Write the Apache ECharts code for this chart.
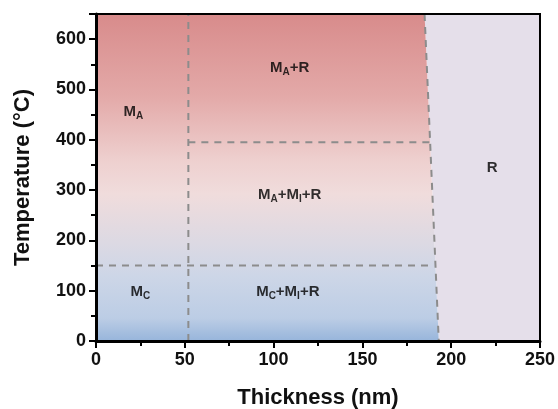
<!DOCTYPE html>
<html>
<head>
<meta charset="utf-8">
<script src="https://cdn.jsdelivr.net/npm/echarts@6/dist/echarts.min.js"></script>
<style>
  html, body { margin: 0; padding: 0; background: #fff; }
  #chart { width: 558px; height: 409px; }
</style>
</head>
<body>
<div id="chart"></div>
<script>
// phase boundaries (thickness nm, temperature C)
const boundaryLine = [[185, 650], [193, 0]];
const verticalLine = [[52, 0], [52, 650]];
const upperLine = [[52, 395], [188, 395]];
const lowerLine = [[0, 150], [190, 150]];

const phaseLabels = [
  { pos: [21, 456], text: "{b|M}{s|A}" },
  { pos: [109, 543], text: "{b|M}{s|A}{b|+R}" },
  { pos: [109, 290], text: "{b|M}{s|A}{b|+M}{s|I}{b|+R}" },
  { pos: [25, 97], text: "{b|M}{s|C}" },
  { pos: [108, 97], text: "{b|M}{s|C}{b|+M}{s|I}{b|+R}" },
  { pos: [223, 344], text: "{b|R}" },
];

const xTicks = { min: 0, max: 250, interval: 50 };
const yTicks = { min: 0, max: 650, interval: 100 };

const chart = echarts.init(document.getElementById("chart"));

const dashStyle = { color: "#8c8c8c", width: 2, type: [7, 6] };
const font = "Liberation Sans";

function dashSeries(data) {
  return {
    type: "line",
    data: data,
    symbol: "none",
    silent: true,
    lineStyle: dashStyle,
    z: 5,
  };
}

const axisCommon = {
  z: 20,
  nameLocation: "middle",
  nameTextStyle: { fontFamily: font, fontWeight: "bold", fontSize: 22, color: "#111" },
  axisLine: { show: true, lineStyle: { color: "#000", width: 3 } },
  axisTick: { show: true, length: 7, lineStyle: { width: 2, color: "#000" } },
  minorTick: { show: true, splitNumber: 2, length: 5, lineStyle: { width: 2, color: "#000" } },
  axisLabel: { fontFamily: font, fontWeight: "bold", fontSize: 18, color: "#111", margin: 10, showMaxLabel: false },
  splitLine: { show: false },
};

const options = {
  animation: false,
  grid: {
    left: 96,
    right: 18,
    top: 14,
    bottom: 68,
    outerBoundsMode: "none",
    containLabel: false,
    show: true,
    borderColor: "#000",
    borderWidth: 2,
    z: 20,
  },
  xAxis: {
    ...axisCommon,
    type: "value",
    min: xTicks.min,
    max: xTicks.max,
    interval: xTicks.interval,
    name: "Thickness (nm)",
    nameGap: 46,
    axisLabel: { ...axisCommon.axisLabel, showMaxLabel: true },
  },
  yAxis: {
    ...axisCommon,
    type: "value",
    min: yTicks.min,
    max: yTicks.max,
    interval: yTicks.interval,
    name: "Temperature (°C)",
    nameGap: 62,
  },
  series: [
    {
      type: "custom",
      silent: true,
      data: [0],
      z: 1,
      renderItem: (params, api) => {
        const tl = api.coord([xTicks.min, yTicks.max]);
        const bl = api.coord([xTicks.min, yTicks.min]);
        const bt = api.coord(boundaryLine[0]);
        const bb = api.coord(boundaryLine[1]);
        const tr = api.coord([xTicks.max, yTicks.max]);
        const br = api.coord([xTicks.max, yTicks.min]);
        return {
          type: "group",
          children: [
            {
              type: "polygon",
              shape: { points: [bt, tr, br, bb] },
              style: { fill: "#e5dfea" },
            },
            {
              type: "polygon",
              shape: { points: [tl, bt, bb, bl] },
              style: {
                fill: new echarts.graphic.LinearGradient(0, 0, 0, 1, [
                  { offset: 0, color: "#d88b8b" },
                  { offset: 0.25, color: "#e3a9a8" },
                  { offset: 0.45, color: "#eed0cf" },
                  { offset: 0.55, color: "#f0dcdc" },
                  { offset: 0.7, color: "#dcd9e3" },
                  { offset: 0.8, color: "#cdd6e7" },
                  { offset: 0.93, color: "#bccde5" },
                  { offset: 1, color: "#97b5db" },
                ]),
              },
            },
          ],
        };
      },
    },
    dashSeries(boundaryLine),
    dashSeries(verticalLine),
    dashSeries(upperLine),
    dashSeries(lowerLine),
    {
      type: "scatter",
      silent: true,
      symbolSize: 0,
      z: 10,
      data: phaseLabels.map((d) => ({ value: d.pos, text: d.text })),
      label: {
        show: true,
        position: "inside",
        formatter: (p) => p.data.text,
        rich: {
          b: { fontFamily: font, fontWeight: "bold", fontSize: 15, color: "#000" },
          s: { fontFamily: font, fontWeight: "bold", fontSize: 10, color: "#000", verticalAlign: "bottom", padding: [9, 0, 0, 0] },
        },
      },
    },
  ],
};

chart.setOption(options);
</script>
</body>
</html>
